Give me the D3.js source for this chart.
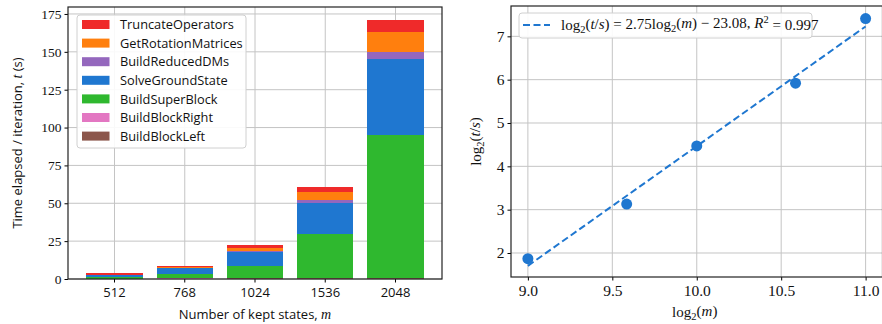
<!DOCTYPE html>
<html><head><meta charset="utf-8">
<script src="https://cdn.jsdelivr.net/npm/d3@7"></script>
<style>
body{margin:0;background:#fff;}
svg{display:block;}
</style></head>
<body>
<svg id="c" width="882" height="324"></svg>
<script>
// ---- data ----
const categories = ["512","768","1024","1536","2048"];
const seriesNames = ["BuildBlockLeft","BuildBlockRight","BuildSuperBlock","SolveGroundState","BuildReducedDMs","GetRotationMatrices","TruncateOperators"];
const seriesColors = ["#8c564b","#e377c2","#2fb82f","#1f77d0","#9467bd","#ff7f0e","#ef2a2a"];
const buildBlockLeft      = [0.1, 0.3, 0.4, 0.5, 0.6];
const buildBlockRight     = [0.05, 0.05, 0.1, 0.15, 0.3];
const buildSuperBlock     = [1.0, 3.2, 8.1, 29.0, 94.2];
const solveGroundState    = [1.2, 3.4, 9.4, 20.3, 50.2];
const buildReducedDMs     = [0.2, 0.15, 0.6, 2.2, 4.6];
const getRotationMatrices = [0.4, 1.0, 1.8, 5.3, 13.2];
const truncateOperators   = [0.7, 0.6, 2.0, 3.3, 8.0];
const seriesValues = [buildBlockLeft, buildBlockRight, buildSuperBlock, solveGroundState, buildReducedDMs, getRotationMatrices, truncateOperators];
const leftYTicks = [0,25,50,75,100,125,150,175];

const log2m = [9.0, 9.585, 10.0, 10.585, 11.0];
const log2t = [1.87, 3.13, 4.47, 5.92, 7.41];
const rightXTicks = [9.0, 9.5, 10.0, 10.5, 11.0];
const rightYTicks = [2,3,4,5,6,7];
const fitLabel = {slope:"2.75", intercept:"23.08", r2:"0.997"};

const svg = d3.select("#c");
const SANS = "'Open Sans', Lato, sans-serif";
const SERIF = "'Liberation Serif', 'DejaVu Serif', serif";
const gridColor = "#c4c4c4";

// ================= LEFT: stacked bars =================
const L = {x0:68, x1:442, y0:7, y1:279};
const xb = d3.scaleBand().domain(categories).range([L.x0, L.x1]).paddingInner(0.2).paddingOuter(0.262);
const yl = d3.scaleLinear().domain([0, 179.6]).range([L.y1, L.y0]);

const gl = svg.append("g");
gl.append("g").selectAll("line").data(leftYTicks).join("line")
  .attr("x1",L.x0).attr("x2",L.x1).attr("y1",d=>yl(d)).attr("y2",d=>yl(d))
  .attr("stroke",gridColor).attr("stroke-width",1);
gl.append("g").selectAll("line").data(categories).join("line")
  .attr("x1",d=>xb(d)+xb.bandwidth()/2).attr("x2",d=>xb(d)+xb.bandwidth()/2).attr("y1",L.y0).attr("y2",L.y1)
  .attr("stroke",gridColor).attr("stroke-width",1);

const rows = categories.map((c,i)=>{const o={cat:c}; seriesNames.forEach((s,j)=>o[s]=seriesValues[j][i]); return o;});
const stack = d3.stack().keys(seriesNames)(rows);
gl.append("g").selectAll("g").data(stack).join("g")
  .attr("fill",(d,i)=>seriesColors[i])
  .selectAll("rect").data(d=>d).join("rect")
  .attr("x",d=>xb(d.data.cat)).attr("width",xb.bandwidth())
  .attr("y",d=>yl(d[1])).attr("height",d=>yl(d[0])-yl(d[1]))
  .attr("shape-rendering","crispEdges");

const axL = gl.append("g").attr("transform",`translate(${L.x0},0)`)
  .call(d3.axisLeft(yl).tickValues(leftYTicks).tickSize(3.5).tickPadding(3).tickFormat(d3.format("d")));
const axB = gl.append("g").attr("transform",`translate(0,${L.y1})`)
  .call(d3.axisBottom(xb).tickSize(3.5).tickPadding(5));
[axL,axB].forEach(a=>{a.select(".domain").remove();a.selectAll("line").attr("stroke","#000").attr("stroke-width",1);
  a.selectAll("text").attr("font-family",SERIF).attr("font-size","13.5px").attr("fill","#111");});
axB.selectAll("text").attr("font-family",SANS).attr("font-size","13px");
gl.append("rect").attr("x",L.x0).attr("y",L.y0).attr("width",L.x1-L.x0).attr("height",L.y1-L.y0)
  .attr("fill","none").attr("stroke","#222").attr("stroke-width",1.2);

const xlab = gl.append("text").attr("x",(L.x0+L.x1)/2).attr("y",319).attr("text-anchor","middle")
  .attr("font-family",SANS).attr("font-size","13px").attr("fill","#111");
xlab.append("tspan").text("Number of kept states, ");
xlab.append("tspan").attr("font-family",SERIF).attr("font-style","italic").attr("font-size","14px").text("m");
const ylab = gl.append("text").attr("transform",`translate(22,${(L.y0+L.y1)/2}) rotate(-90)`).attr("text-anchor","middle")
  .attr("font-family",SANS).attr("font-size","13px").attr("fill","#111");
ylab.append("tspan").text("Time elapsed / iteration, ");
ylab.append("tspan").attr("font-family",SERIF).attr("font-style","italic").attr("font-size","14px").text("t");
ylab.append("tspan").text(" (s)");

const lg = gl.append("g").attr("transform","translate(77,15)");
lg.append("rect").attr("width",169).attr("height",133).attr("rx",3).attr("fill","#fff").attr("fill-opacity",0.9)
  .attr("stroke","#d0d0d0").attr("stroke-width",1);
const legendOrder = seriesNames.map((s,i)=>i).reverse();
const li = lg.selectAll("g.it").data(legendOrder).join("g").attr("class","it")
  .attr("transform",(d,k)=>`translate(5,${9.5+k*18.6})`);
li.append("rect").attr("width",27.5).attr("height",9).attr("y",-4.5).attr("fill",d=>seriesColors[d]);
li.append("text").attr("x",38).attr("dy","0.36em").attr("font-family",SANS).attr("font-size","12.8px")
  .attr("fill","#111").text(d=>seriesNames[d]);

// ================= RIGHT: scatter + fit =================
const R = {x0:511, x1:882.5, y0:6, y1:277};
const xr = d3.scaleLinear().domain([8.9, 11.1]).range([R.x0, R.x1]);
const yr = d3.scaleLinear().domain([1.446, 7.70]).range([R.y1, R.y0]);
const gr = svg.append("g");
gr.append("g").selectAll("line").data(rightYTicks).join("line")
  .attr("x1",R.x0).attr("x2",R.x1).attr("y1",d=>yr(d)).attr("y2",d=>yr(d)).attr("stroke",gridColor).attr("stroke-width",1);
gr.append("g").selectAll("line").data(rightXTicks).join("line")
  .attr("x1",d=>xr(d)).attr("x2",d=>xr(d)).attr("y1",R.y0).attr("y2",R.y1).attr("stroke",gridColor).attr("stroke-width",1);

const mx = d3.mean(log2m), my = d3.mean(log2t);
const slope = d3.sum(log2m.map((x,i)=>(x-mx)*(log2t[i]-my))) / d3.sum(log2m.map(x=>(x-mx)*(x-mx)));
const icpt = my - slope*mx;
const ext = d3.extent(log2m);
gr.append("line").attr("x1",xr(ext[0])).attr("y1",yr(slope*ext[0]+icpt)).attr("x2",xr(ext[1])).attr("y2",yr(slope*ext[1]+icpt))
  .attr("stroke","#1f77d0").attr("stroke-width",2).attr("stroke-dasharray","7,3.5");
gr.append("g").selectAll("circle").data(log2m).join("circle")
  .attr("cx",d=>xr(d)).attr("cy",(d,i)=>yr(log2t[i])).attr("r",5.5).attr("fill","#1f77d0");

const axL2 = gr.append("g").attr("transform",`translate(${R.x0},0)`)
  .call(d3.axisLeft(yr).tickValues(rightYTicks).tickSize(3.5).tickPadding(3).tickFormat(d3.format("d")));
const axB2 = gr.append("g").attr("transform",`translate(0,${R.y1})`)
  .call(d3.axisBottom(xr).tickValues(rightXTicks).tickSize(3.5).tickPadding(4).tickFormat(d3.format(".1f")));
[axL2,axB2].forEach(a=>{a.select(".domain").remove();a.selectAll("line").attr("stroke","#000").attr("stroke-width",1);
  a.selectAll("text").attr("font-family",SERIF).attr("font-size","15.5px").attr("fill","#111");});
gr.append("rect").attr("x",R.x0).attr("y",R.y0).attr("width",R.x1-R.x0).attr("height",R.y1-R.y0)
  .attr("fill","none").attr("stroke","#222").attr("stroke-width",1.2);

function logLabel(sel, inner){
  sel.append("tspan").text("log");
  sel.append("tspan").attr("font-size","0.7em").attr("dy","0.25em").text("2");
  sel.append("tspan").attr("dy","-0.25em").text("(");
  inner(sel);
  sel.append("tspan").text(")");
}
const xl2 = gr.append("text").attr("x",(R.x0+R.x1)/2-2).attr("y",317).attr("text-anchor","middle")
  .attr("font-family",SERIF).attr("font-size","15px").attr("fill","#111");
logLabel(xl2, s=>s.append("tspan").attr("font-style","italic").text("m"));
const yl2 = gr.append("text").attr("transform",`translate(481,${(R.y0+R.y1)/2}) rotate(-90)`).attr("text-anchor","middle")
  .attr("font-family",SERIF).attr("font-size","15px").attr("fill","#111");
logLabel(yl2, s=>{s.append("tspan").attr("font-style","italic").text("t");s.append("tspan").text("/");s.append("tspan").attr("font-style","italic").text("s");});

const lg2 = gr.append("g").attr("transform","translate(519,13)");
lg2.append("rect").attr("width",293).attr("height",25).attr("rx",3).attr("fill","#fff").attr("fill-opacity",0.9)
  .attr("stroke","#d0d0d0").attr("stroke-width",1);
lg2.append("line").attr("x1",4).attr("x2",31).attr("y1",12).attr("y2",12).attr("stroke","#1f77d0").attr("stroke-width",2).attr("stroke-dasharray","7,3.5");
const lt = lg2.append("text").attr("x",42).attr("y",17).attr("font-family",SERIF).attr("font-size","15px").attr("fill","#111");
logLabel(lt, s=>{s.append("tspan").attr("font-style","italic").text("t");s.append("tspan").text("/");s.append("tspan").attr("font-style","italic").text("s");});
lt.append("tspan").text(` = ${fitLabel.slope}`);
logLabel(lt, s=>s.append("tspan").attr("font-style","italic").text("m"));
lt.append("tspan").text(` − ${fitLabel.intercept}, `);
lt.append("tspan").attr("font-style","italic").text("R");
lt.append("tspan").attr("font-size","0.7em").attr("dy","-0.45em").text("2");
lt.append("tspan").attr("dy","0.45em").text(` = ${fitLabel.r2}`);
</script>
</body></html>
